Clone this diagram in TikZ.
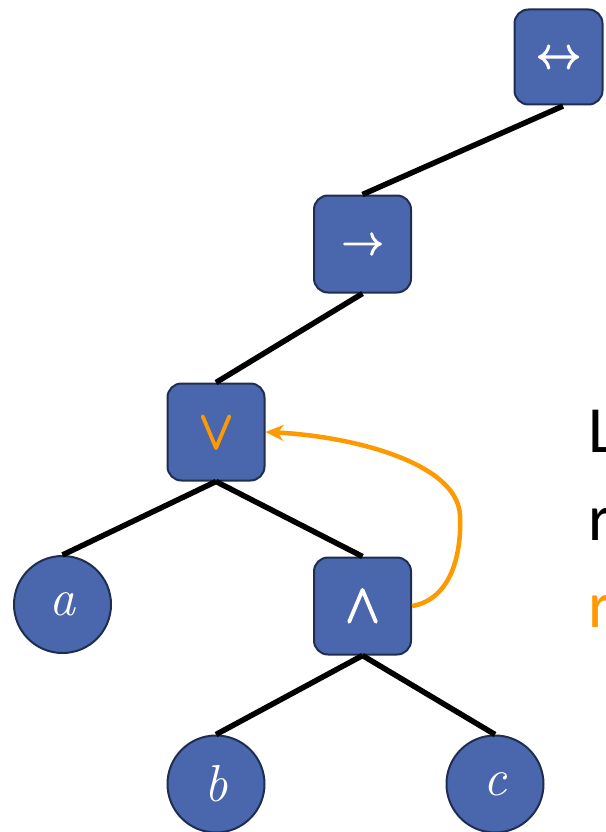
\documentclass[tikz,border=0pt]{standalone}
\usepackage{fontspec}
\setmainfont{Carlito}
\newfontfamily\arrowfont{Latin Modern Math}[FakeBold=3]
\newfontfamily\lettersfont{Latin Modern Roman}
\usetikzlibrary{arrows.meta}
\definecolor{boxblue}{HTML}{4A66AC}
\definecolor{boxedge}{HTML}{1F2D50}
\definecolor{accent}{HTML}{FF9900}
\tikzset{
  opbox/.style={draw=boxedge, line width=2pt, fill=boxblue, rounded corners=14pt, minimum width=97pt, minimum height=97pt, inner sep=0pt, text=white, font=\arrowfont\fontsize{42}{42}\selectfont},
  logicbox/.style={opbox, font=\arrowfont\fontsize{54}{54}\selectfont},
  leaf/.style={circle, draw=boxedge, line width=2pt, fill=boxblue, minimum size=97pt, inner sep=0pt, text=white, font=\lettersfont\itshape\fontsize{52}{52}\selectfont},
  edge/.style={line width=5.5pt, black},
  label/.style={anchor=base west, inner sep=0pt, font=\fontsize{66}{66}\selectfont}
}
\begin{document}
\begin{tikzpicture}[x=1pt,y=-1pt]
\useasboundingbox (0,0) rectangle (605,832);
\clip (0,0) rectangle (605,832);
\node[opbox, minimum width=88pt, minimum height=95pt, font=\arrowfont\fontsize{45}{45}\selectfont] (iff) at (558.5,57) {↔};
\node[opbox] (imp) at (362.5,244) {→};
\node[logicbox, text=accent] (or) at (216,432) {∨};
\node[logicbox] (and) at (362.5,606) {∧};
\node[leaf] (a) at (62.5,604.5) {a};
\node[leaf] (b) at (216,784) {b};
\node[leaf] (c) at (495,784) {c};
\coordinate (iffb) at (563,106);
\draw[edge] (iffb) -- (imp.north);
\draw[edge] (imp.south) -- (or.north);
\draw[edge] (or.south) -- (a.north);
\draw[edge] (or.south) -- (and.north);
\draw[edge] (and.south) -- (b.north);
\draw[edge] (and.south) -- (c.north);
\draw[accent, line width=4.5pt, -{Stealth[length=18pt,width=16pt]}]
  (and.east) .. controls (448,600) and (462,560) .. (460,515)
  .. controls (457,462) and (350,436) .. (or.east);
\node[label] (t1) at (588,452) {L};
\node[label] (t2) at (588,540) {r};
\node[label, text=accent] (t3) at (588,627) {r};
\end{tikzpicture}
\end{document}
